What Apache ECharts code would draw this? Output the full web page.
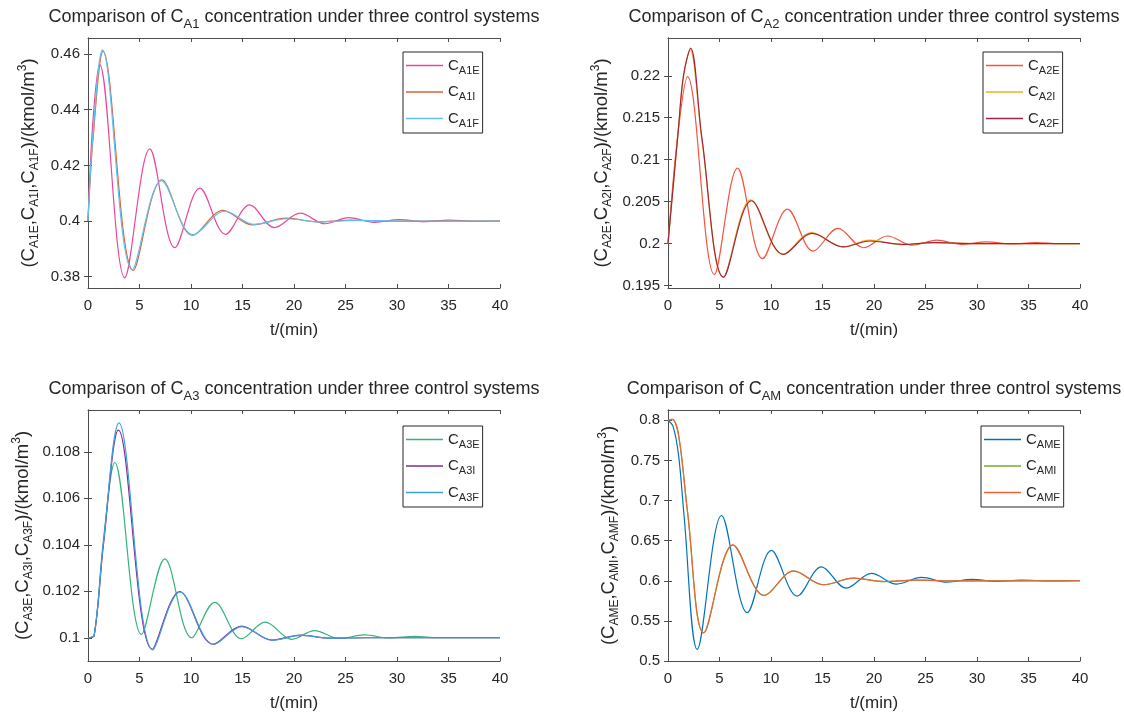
<!DOCTYPE html>
<html>
<head>
<meta charset="utf-8">
<script src="https://cdn.jsdelivr.net/npm/echarts@6/dist/echarts.min.js"></script>
<style>
  html, body { margin: 0; background: #fff; }
  #chart { width: 1124px; height: 716px; }
</style>
</head>
<body>
<div id="chart"></div>
<script>
// ── Data ───────────────────────────────────────────────────────────────────────

const xTicks = [0, 5, 10, 15, 20, 25, 30, 35, 40];

const yTicksA1 = [0.38, 0.40, 0.42, 0.44, 0.46];
const yTicksA2 = [0.195, 0.2, 0.205, 0.21, 0.215, 0.22];
const yTicksA3 = [0.1, 0.102, 0.104, 0.106, 0.108];
const yTicksAM = [0.5, 0.55, 0.6, 0.65, 0.7, 0.75, 0.8];

// C_A1: [t (min), concentration]
const cA1E = [[0,0.400],[0.5,0.437],[1.14,0.4562],[3.57,0.3796],[6.0,0.4259],[8.43,0.3904],
  [10.86,0.4118],[13.35,0.3952],[15.7,0.4058],[18.1,0.3976],[20.6,0.4028],[23.0,0.3990],[25.3,0.4012],
  [27.8,0.3995],[30.2,0.4005],[32.6,0.3998],[35.0,0.4003],[37.5,0.3999],[40,0.400]];
const cA1I = [[0,0.400],[0.5,0.430],[1.46,0.4610],[4.4,0.3822],[7.18,0.4148],[10.16,0.3948],
  [13.1,0.4038],[15.95,0.3986],[19.25,0.4010],[22.3,0.3997],[25.5,0.4003],[29,0.3999],[40,0.400]];
const cA1F = [[0,0.400],[0.5,0.432],[1.4,0.4615],[4.3,0.3825],[7.15,0.4145],[10.2,0.3950],
  [13.3,0.4035],[16.1,0.3988],[19.3,0.4008],[22.5,0.3997],[26,0.4002],[30,0.400],[40,0.400]];

// C_A2
const cA2E = [[0,0.200],[1.0,0.2135],[1.9,0.2199],[4.5,0.1963],[6.75,0.2090],[9.18,0.1982],
  [11.6,0.2041],[14.1,0.1991],[16.5,0.2018],[19.0,0.1995],[21.3,0.2009],[23.7,0.1998],[26.1,0.2004],
  [28.5,0.1999],[30.9,0.2002],[33.3,0.19995],[35.7,0.2001],[38,0.19998],[40,0.200]];
const cA2I = [[0,0.200],[1.0,0.2135],[1.5,0.2199],[2.15,0.2231],[3.3,0.2123],[5.37,0.1960],[8.03,0.2052],
  [11.15,0.1987],[13.96,0.2013],[16.97,0.1996],[19.57,0.2004],[22.8,0.19985],[25.7,0.2001],[30,0.200],[40,0.200]];
const cA2F = [[0,0.200],[1.0,0.2135],[1.5,0.2200],[2.2,0.2233],[3.3,0.2125],[5.4,0.1960],[8.1,0.2051],
  [11.2,0.1987],[14.0,0.2012],[17.0,0.1996],[19.6,0.2003],[22.8,0.1999],[25.7,0.2001],[30,0.200],[40,0.200]];

// C_A3
const cA3E = [[0,0.1000],[0.6,0.1001],[1.5,0.1042],[2.6,0.10754],[5.2,0.10014],[7.46,0.10339],
  [10.06,0.1000],[12.3,0.10152],[14.9,0.09996],[17.2,0.10067],[19.8,0.09993],[22.0,0.10031],[24.4,0.09997],
  [26.8,0.10012],[29.3,0.09999],[31.7,0.10006],[34,0.1000],[40,0.1000]];
const cA3I = [[0,0.1000],[0.6,0.1001],[1.5,0.1040],[2.95,0.10893],[6.24,0.0995],[8.9,0.10199],
  [12.14,0.09972],[14.9,0.1005],[17.86,0.0999],[20.6,0.10011],[23.5,0.09998],[27,0.1000],[40,0.1000]];
const cA3F = [[0,0.1000],[0.6,0.1001],[1.5,0.1041],[3.0,0.10925],[6.3,0.09948],[8.95,0.10197],
  [12.2,0.09972],[14.95,0.10048],[17.9,0.0999],[20.7,0.1001],[23.5,0.09998],[27,0.1000],[40,0.1000]];

// C_AM
const cAME = [[0,0.800],[0.5,0.792],[1.04,0.755],[1.56,0.681],[2.84,0.5145],[5.2,0.6813],
  [7.7,0.5602],[10.04,0.6378],[12.54,0.5809],[14.9,0.6174],[17.3,0.5909],[19.75,0.6091],[22.2,0.5959],
  [24.6,0.6041],[27.1,0.5982],[29.5,0.6018],[31.9,0.5992],[34.3,0.6008],[37,0.5998],[40,0.600]];
const cAMI = [[0,0.800],[0.4,0.801],[1.04,0.780],[1.9,0.685],[3.46,0.5353],[6.34,0.6444],
  [9.35,0.5817],[12.2,0.6120],[15.07,0.5950],[18.0,0.6033],[21.0,0.5990],[24.0,0.6008],[28,0.5998],[40,0.600]];
const cAMF = [[0,0.800],[0.4,0.801],[1.04,0.781],[1.9,0.686],[3.47,0.5350],[6.3,0.6448],
  [9.35,0.5815],[12.2,0.6122],[15.1,0.5950],[18.0,0.6032],[21.0,0.5991],[24.0,0.6007],[28,0.5998],[40,0.600]];

// ── Layout / styling ──────────────────────────────────────────────────────────

const FONT = "'Liberation Sans', Arial, Helvetica, sans-serif";
const INK = '#262626';
const AXIS = '#4d4d4d';

const TRICH = {
  s: { fontSize: 13, fontFamily: FONT, color: INK, padding: [14, 0, 0, 0] },
};
const YRICH = {
  s: { fontSize: 12, fontFamily: FONT, color: INK, padding: [12, 0, 0, 0] },
  p: { fontSize: 12, fontFamily: FONT, color: INK, padding: [0, 0, 12, 0] },
};
const LRICH = {
  s: { fontSize: 11, fontFamily: FONT, color: INK, padding: [10, 0, 0, 0] },
};

const panels = [
  { key: 'A1', grid: { left: 88, top: 38, width: 412, height: 250 }, y: [0.3759, 0.4658], ticks: yTicksA1, nameGap: 47,
    data: [cA1E, cA1I, cA1F], colors: ['#e8489b', '#d9623a', '#5ec2ee'], legend: { left: 403, top: 52 } },
  { key: 'A2', grid: { left: 668, top: 38, width: 412, height: 250 }, y: [0.1947, 0.2245], ticks: yTicksA2, nameGap: 54,
    data: [cA2E, cA2I, cA2F], colors: ['#f5533d', '#edb120', '#a2253f'], legend: { left: 983, top: 52 } },
  { key: 'A3', grid: { left: 88, top: 410, width: 412, height: 251 }, y: [0.0990, 0.1098], ticks: yTicksA3, nameGap: 53,
    data: [cA3E, cA3I, cA3F], colors: ['#36b37a', '#7e2f8e', '#3f9fe3'], legend: { left: 403, top: 426 } },
  { key: 'AM', grid: { left: 668, top: 410, width: 412, height: 251 }, y: [0.5, 0.8128], ticks: yTicksAM, nameGap: 47,
    data: [cAME, cAMI, cAMF], colors: ['#0072bd', '#77ac30', '#e8653a'], legend: { left: 981, top: 426 } },
];
const SUFFIX = ['E', 'I', 'F'];

const option = {
  backgroundColor: '#fff',
  animation: false,
  title: [], grid: [], xAxis: [], yAxis: [], legend: [], series: [],
};

panels.forEach((p, i) => {
  const names = SUFFIX.map(s => 'C' + p.key + s);
  const g = p.grid;
  option.grid.push({ ...g, show: false });

  option.title.push({
    text: `Comparison of C{s|${p.key}} concentration under three control systems`,
    left: g.left + g.width / 2, top: g.top - 34, textAlign: 'center', padding: 0,
    textStyle: { fontSize: 18, fontWeight: 'normal', color: INK, fontFamily: FONT, rich: TRICH },
  });

  const tickLabel = { color: INK, fontSize: 15, fontFamily: FONT };
  option.xAxis.push({
    type: 'value', gridIndex: i, min: 0, max: 40, interval: 5,
    name: 't/(min)', nameLocation: 'middle', nameGap: 34,
    nameTextStyle: { color: INK, fontSize: 17, fontFamily: FONT },
    axisLine: { lineStyle: { color: AXIS, width: 1 } },
    axisTick: { inside: true, length: 4, lineStyle: { color: AXIS } },
    axisLabel: { ...tickLabel, margin: 10 },
    splitLine: { show: false },
  }, {
    type: 'value', gridIndex: i, min: 0, max: 40, interval: 5, position: 'top',
    axisLine: { lineStyle: { color: AXIS, width: 1 } },
    axisTick: { inside: true, length: 4, lineStyle: { color: AXIS } },
    axisLabel: { show: false }, splitLine: { show: false },
  });

  const yName = `(C{s|${p.key}E},C{s|${p.key}I},C{s|${p.key}F})/(kmol/m{p|3})`;
  option.yAxis.push({
    type: 'value', gridIndex: i, min: p.y[0], max: p.y[1],
    name: yName, nameLocation: 'middle', nameGap: p.nameGap, nameRotate: 90,
    nameTextStyle: { color: INK, fontSize: 18.5, fontFamily: FONT, rich: YRICH },
    axisLine: { show: true, lineStyle: { color: AXIS, width: 1 } },
    axisTick: { show: true, inside: true, length: 4, customValues: p.ticks, lineStyle: { color: AXIS } },
    axisLabel: { ...tickLabel, margin: 8, customValues: p.ticks, formatter: v => String(+(+v).toFixed(4)) },
    splitLine: { show: false },
  }, {
    type: 'value', gridIndex: i, min: p.y[0], max: p.y[1], position: 'right',
    axisLine: { show: true, lineStyle: { color: AXIS, width: 1 } },
    axisTick: { show: true, inside: true, length: 4, customValues: p.ticks, lineStyle: { color: AXIS } },
    axisLabel: { show: false }, splitLine: { show: false },
  });

  option.legend.push({
    data: names, orient: 'vertical', left: p.legend.left, top: p.legend.top,
    icon: 'rect', itemWidth: 37, itemHeight: 1.6, itemGap: 8.5,
    padding: [6, 3, 4, 3], borderColor: INK, borderWidth: 1, backgroundColor: '#fff',
    formatter: n => 'C{s|' + n.slice(1) + '}',
    textStyle: { fontSize: 15, color: INK, fontFamily: FONT, rich: LRICH },
  });

  names.forEach((n, k) => {
    option.series.push({
      name: n, type: 'line', xAxisIndex: 2 * i, yAxisIndex: 2 * i,
      data: p.data[k], smooth: 0.35, showSymbol: false, symbol: 'none',
      color: p.colors[k], lineStyle: { width: 1.2, color: p.colors[k] },
      z: 2 + k,
    });
  });
});

const chart = echarts.init(document.getElementById('chart'), null, { renderer: 'canvas' });
chart.setOption(option);
</script>
</body>
</html>
